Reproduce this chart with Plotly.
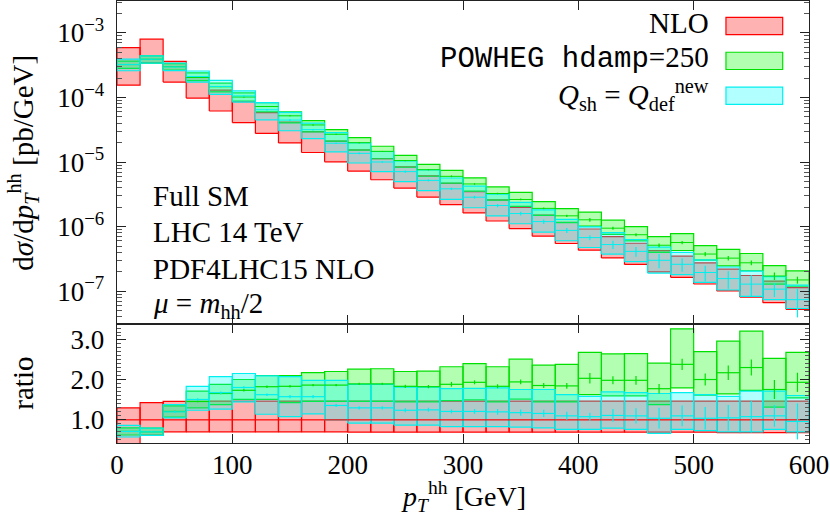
import plotly.graph_objects as go

# ---------------- data ----------------
bin_lo = [0, 20, 40, 60, 80, 100, 120, 140, 160, 180, 200, 220, 240, 260, 280,
          300, 320, 340, 360, 380, 400, 420, 440, 460, 480, 500, 520, 540, 560, 580]
bin_hi = [20, 40, 60, 80, 100, 120, 140, 160, 180, 200, 220, 240, 260, 280, 300,
          320, 340, 360, 380, 400, 420, 440, 460, 480, 500, 520, 540, 560, 580, 600]

# NLO central value [pb/GeV]
nlo_c = [4.56e-4, 5.6e-4, 2.48e-4, 1.40e-4, 8.83e-5, 5.85e-5, 3.96e-5, 2.83e-5, 2.01e-5, 1.44e-5,
         1.05e-5, 7.71e-6, 5.73e-6, 4.16e-6, 3.18e-6, 2.36e-6, 1.77e-6, 1.35e-6, 1.03e-6, 7.94e-7,
         6.25e-7, 4.75e-7, 3.76e-7, 2.89e-7, 2.37e-7, 1.87e-7, 1.49e-7, 1.19e-7, 9.76e-8, 7.69e-8]

# ratios to NLO central
nlo_hi = [1.30, 1.43, 1.46, 1.46, 1.47, 1.47, 1.47, 1.47, 1.47, 1.47,
          1.47, 1.47, 1.47, 1.47, 1.47, 1.47, 1.47, 1.47, 1.47, 1.47,
          1.47, 1.47, 1.47, 1.47, 1.47, 1.47, 1.47, 1.47, 1.47, 1.47]
nlo_lo = [0.34, 0.62, 0.70, 0.70, 0.70, 0.70, 0.70, 0.70, 0.70, 0.70,
          0.69, 0.69, 0.69, 0.69, 0.69, 0.69, 0.69, 0.69, 0.69, 0.69,
          0.69, 0.69, 0.69, 0.69, 0.69, 0.69, 0.68, 0.68, 0.68, 0.68]

pw_c = [0.71, 0.70, 1.21, 1.46, 1.66, 1.74, 1.83, 1.84, 1.87, 1.87,
        1.90, 1.90, 1.84, 1.83, 1.89, 1.94, 1.84, 1.95, 1.86, 1.85,
        2.04, 1.99, 1.99, 1.78, 2.39, 2.01, 2.18, 2.31, 1.76, 1.94]
pw_hi = [0.80, 0.79, 1.35, 1.72, 1.89, 2.01, 2.11, 2.11, 2.18, 2.21,
         2.27, 2.28, 2.21, 2.22, 2.33, 2.41, 2.33, 2.52, 2.37, 2.39,
         2.69, 2.65, 2.66, 2.42, 3.28, 2.71, 2.97, 3.22, 2.54, 2.69]
pw_lo = [0.62, 0.61, 1.07, 1.30, 1.38, 1.51, 1.51, 1.43, 1.46, 1.46,
         1.46, 1.46, 1.45, 1.45, 1.48, 1.50, 1.45, 1.52, 1.45, 1.45,
         1.63, 1.60, 1.60, 1.38, 1.80, 1.62, 1.65, 1.74, 1.32, 1.55]
pw_err = [0.01, 0.01, 0.02, 0.02, 0.02, 0.03, 0.03, 0.03, 0.03, 0.03,
          0.03, 0.03, 0.04, 0.04, 0.06, 0.05, 0.05, 0.06, 0.06, 0.07,
          0.13, 0.10, 0.11, 0.12, 0.14, 0.15, 0.18, 0.20, 0.24, 0.24]

qs_c = [0.71, 0.70, 1.20, 1.51, 1.68, 1.81, 1.63, 1.58, 1.58, 1.36,
        1.30, 1.30, 1.24, 1.25, 1.21, 1.21, 1.20, 1.18, 1.16, 1.10,
        1.08, 1.11, 1.10, 1.04, 1.10, 1.04, 1.05, 1.08, 1.10, 0.96]
qs_hi = [0.86, 0.79, 1.38, 1.84, 2.08, 2.16, 2.10, 2.08, 1.99, 1.99,
         1.89, 1.89, 1.82, 1.82, 1.78, 1.79, 1.80, 1.76, 1.76, 1.63,
         1.59, 1.70, 1.68, 1.66, 1.68, 1.63, 1.59, 1.72, 1.72, 1.61]
qs_lo = [0.57, 0.61, 1.05, 1.24, 1.27, 1.45, 1.14, 1.08, 1.15, 1.00,
         0.92, 0.92, 0.87, 0.87, 0.83, 0.83, 0.83, 0.82, 0.80, 0.76,
         0.76, 0.79, 0.76, 0.66, 0.76, 0.73, 0.70, 0.70, 0.76, 0.70]
qs_err = [0.02, 0.02, 0.02, 0.03, 0.03, 0.03, 0.03, 0.04, 0.04, 0.04,
          0.04, 0.04, 0.05, 0.05, 0.05, 0.06, 0.07, 0.08, 0.09, 0.10,
          0.10, 0.16, 0.19, 0.26, 0.26, 0.28, 0.32, 0.40, 0.27, 0.45]

y_ticks_top = [1e-7, 1e-6, 1e-5, 1e-4, 1e-3]
y_ticktext_top = ["10<sup>−7</sup>", "10<sup>−6</sup>", "10<sup>−5</sup>",
                  "10<sup>−4</sup>", "10<sup>−3</sup>"]
y_ticks_ratio = [1.0, 2.0, 3.0]
y_ticktext_ratio = ["1.0", "2.0", "3.0"]
x_ticks = [0, 100, 200, 300, 400, 500, 600]

FONT = "Liberation Serif"
MONO = "Liberation Mono"
FS = 29
TICK_FS = 27

RED_L, RED_F = "#ff0000", "rgba(255,0,0,0.3)"
GRN_L, GRN_F = "#00e000", "rgba(0,255,0,0.3)"
CYA_L, CYA_F = "#00f0f0", "rgba(0,255,255,0.3)"


def boxes(lo, hi):
    xs, ys = [], []
    for a, b, l, h in zip(bin_lo, bin_hi, lo, hi):
        xs += [a, b, b, a, a, None]
        ys += [l, l, h, h, l, None]
    return xs, ys


def steps(vals):
    xs, ys = [], []
    for a, b, v in zip(bin_lo, bin_hi, vals):
        xs += [a, b, None]
        ys += [v, v, None]
    return xs, ys


fig = go.Figure()

centers = [(a + b) / 2 for a, b in zip(bin_lo, bin_hi)]

series = [
    (nlo_lo, nlo_hi, None, None, RED_L, RED_F),
    (pw_lo, pw_hi, pw_c, pw_err, GRN_L, GRN_F),
    (qs_lo, qs_hi, qs_c, qs_err, CYA_L, CYA_F),
]

for lo, hi, c, err, lc, fc in series:
    alo = [n * r for n, r in zip(nlo_c, lo)]
    ahi = [n * r for n, r in zip(nlo_c, hi)]
    bx, by = boxes(alo, ahi)
    fig.add_trace(go.Scatter(x=bx, y=by, mode="lines", fill="toself", fillcolor=fc,
                             line=dict(color=lc, width=1.2), xaxis="x", yaxis="y",
                             showlegend=False, hoverinfo="skip"))
    bx, by = boxes(lo, hi)
    fig.add_trace(go.Scatter(x=bx, y=by, mode="lines", fill="toself", fillcolor=fc,
                             line=dict(color=lc, width=1.2), xaxis="x2", yaxis="y2",
                             showlegend=False, hoverinfo="skip"))

sx, sy = steps([1.0] * len(bin_lo))
fig.add_trace(go.Scatter(x=sx, y=sy, mode="lines", line=dict(color=RED_L, width=1.2),
                         xaxis="x2", yaxis="y2", showlegend=False, hoverinfo="skip"))

for lo, hi, c, err, lc, fc in series[1:]:
    sx, sy = steps(c)
    fig.add_trace(go.Scatter(x=sx, y=sy, mode="lines", line=dict(color=lc, width=1.2),
                             xaxis="x2", yaxis="y2", showlegend=False, hoverinfo="skip"))
    fig.add_trace(go.Scatter(x=centers, y=c, mode="markers",
                             marker=dict(size=1, color=lc),
                             error_y=dict(type="data", array=err, color=lc, thickness=1.2, width=0),
                             xaxis="x2", yaxis="y2", showlegend=False, hoverinfo="skip"))
    ac = [n * r for n, r in zip(nlo_c, c)]
    ae = [n * r for n, r in zip(nlo_c, err)]
    sx, sy = steps(ac)
    fig.add_trace(go.Scatter(x=sx, y=sy, mode="lines", line=dict(color=lc, width=1),
                             xaxis="x", yaxis="y", showlegend=False, hoverinfo="skip"))
    fig.add_trace(go.Scatter(x=centers, y=ac, mode="markers",
                             marker=dict(size=1, color=lc),
                             error_y=dict(type="data", array=ae, color=lc, thickness=1.2, width=0),
                             xaxis="x", yaxis="y", showlegend=False, hoverinfo="skip"))

split = 0.2692
minor_log = [k * 10.0 ** e for e in range(-8, -2) for k in range(2, 10)]

axis_common = dict(showgrid=False, zeroline=False, showline=True, linecolor="#222",
                   linewidth=1.3, mirror="ticks", ticks="inside", tickcolor="#222",
                   automargin=False, tickfont=dict(size=TICK_FS))

fig.update_layout(
    width=830, height=515,
    margin=dict(l=117, r=21, t=1, b=72, autoexpand=False),
    paper_bgcolor="white", plot_bgcolor="white",
    font=dict(family=FONT, size=FS, color="black"),
    xaxis=dict(domain=[0, 1], range=[0, 600], anchor="y", tickvals=x_ticks,
               showticklabels=False, ticklen=9, **axis_common),
    yaxis=dict(domain=[split, 1], type="log", range=[-7.509, -2.505], anchor="x",
               tickvals=y_ticks_top, ticktext=y_ticktext_top, ticklen=9,
               ticklabelstandoff=6,
               minor=dict(tickvals=minor_log, ticks="inside", ticklen=5, tickcolor="#555"),
               **axis_common),
    xaxis2=dict(domain=[0, 1], range=[0, 600], anchor="y2", tickvals=x_ticks,
                ticklen=9, ticklabelstandoff=-3, ticklabeloverflow="allow", **axis_common),
    yaxis2=dict(domain=[0, split], range=[0.42, 3.4], anchor="x2",
                tickvals=y_ticks_ratio, ticktext=y_ticktext_ratio, ticklen=9,
                ticklabelstandoff=6,
                minor=dict(dtick=0.1, ticks="inside", ticklen=4, tickcolor="#555"),
                **axis_common),
)

ann = []
ann.append(dict(text="d<i>σ</i>/d<i>p</i><sub><i>T</i></sub><sup>hh</sup> [pb/GeV]",
                xref="paper", yref="paper", x=-0.137, y=(split + 1) / 2, textangle=-90,
                showarrow=False, xanchor="center", yanchor="middle"))
ann.append(dict(text="ratio", xref="paper", yref="paper", x=-0.137, y=split / 2,
                textangle=-90, showarrow=False, xanchor="center", yanchor="middle"))
ann.append(dict(text="<i>p</i><sub><i>T</i></sub><sup>hh</sup> [GeV]", xref="paper", yref="paper",
                x=0.5, y=-0.170, showarrow=False, xanchor="center", yanchor="bottom",
                font=dict(size=28)))
info = ["Full SM", "LHC 14 TeV", "PDF4LHC15 NLO", "<i>μ</i> = <i>m</i><sub>hh</sub>/2"]
info_y = [0.559, 0.477, 0.394, 0.312]
for t, yy in zip(info, info_y):
    ann.append(dict(text=t, xref="paper", yref="paper", x=0.049, y=yy, showarrow=False,
                    xanchor="left", yanchor="middle"))
leg_text = ["NLO",
            "<span style=\"font-family:'%s'\">POWHEG hdamp</span><span style=\"font-family:'%s'\">=250</span>" % (MONO, FONT),
            "<i>Q</i><sub>sh</sub> = <i>Q</i><sub>def</sub><sup>new</sup>"]
leg_y = [0.950, 0.871, 0.787]
leg_box = [(0.924, 0.963), (0.845, 0.884), (0.766, 0.805)]
leg_cols = [(RED_L, RED_F), (GRN_L, GRN_F), (CYA_L, CYA_F)]
shapes = []
for t, yy, (b0, b1), (lc, fc) in zip(leg_text, leg_y, leg_box, leg_cols):
    ann.append(dict(text=t, xref="paper", yref="paper", x=0.858, y=yy, showarrow=False,
                    xanchor="right", yanchor="middle"))
    shapes.append(dict(type="rect", xref="paper", yref="paper", x0=0.880, x1=0.962,
                       y0=b0, y1=b1, fillcolor=fc, line=dict(color=lc, width=1.2)))

fig.update_layout(annotations=ann, shapes=shapes)

fig.write_html("out.html", config={"displayModeBar": False, "staticPlot": True},
               post_script="document.body.style.margin='0';document.body.style.padding='0';"
                           "document.body.style.overflow='hidden';")
